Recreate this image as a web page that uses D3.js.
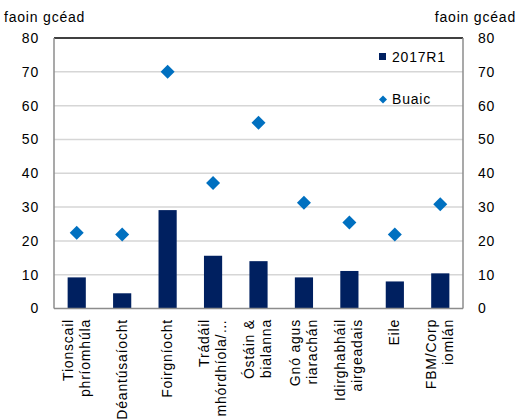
<!DOCTYPE html>
<html>
<head>
<meta charset="utf-8">
<script src="https://cdn.jsdelivr.net/npm/d3@7"></script>
<style>
  html, body { margin: 0; padding: 0; background: #fff; }
  svg { display: block; }
  text { font-family: "Liberation Sans", Arial, sans-serif; font-size: 14px; fill: #000; letter-spacing: 0.8px; }
</style>
</head>
<body>
<svg id="chart" width="517" height="420"></svg>
<script>
// Sector labels (each entry is the list of lines drawn under a bar)
const categories = [
  ["Tionscail", "phríomhúla"],
  ["Déantúsaíocht"],
  ["Foirgníocht"],
  ["Trádáil", "mhórdhíola/…"],
  ["Óstáin &", "bialanna"],
  ["Gnó agus", "riarachán"],
  ["Idirghabháil", "airgeadais"],
  ["Eile"],
  ["FBM/Corp", "iomlán"]
];
const seriesNames = ["2017R1", "Buaic"];
const values2017R1 = [9.2, 4.5, 29.1, 15.6, 14.0, 9.2, 11.1, 8.0, 10.4];
const valuesBuaic = [22.4, 21.9, 70.0, 37.1, 54.9, 31.3, 25.4, 21.9, 30.8];
const yTicks = [0, 10, 20, 30, 40, 50, 60, 70, 80];
const unitLabel = "faoin gcéad";

const barColor = "#002060";
const markerColor = "#0070c0";

const svg = d3.select("#chart");
const plot = { left: 54, right: 463, top: 38, bottom: 308.5 };

const x = d3.scaleBand()
  .domain(d3.range(categories.length))
  .range([plot.left, plot.right])
  .paddingInner(0.6)
  .paddingOuter(0.3);

const y = d3.scaleLinear()
  .domain([0, 80])
  .range([plot.bottom, plot.top]);

// Horizontal gridlines
svg.append("g")
  .selectAll("line")
  .data(yTicks.filter(t => t > 0 && t < 80))
  .join("line")
  .attr("x1", plot.left).attr("x2", plot.right)
  .attr("y1", d => y(d)).attr("y2", d => y(d))
  .attr("stroke", "#d6d6d6")
  .attr("stroke-width", 1.5);

// Bars
svg.append("g")
  .selectAll("rect")
  .data(values2017R1)
  .join("rect")
  .attr("x", (d, i) => x(i))
  .attr("width", x.bandwidth())
  .attr("y", d => y(d))
  .attr("height", d => y(0) - y(d))
  .attr("fill", barColor);

// Diamond markers
const diamond = d3.symbol().type(d3.symbolSquare).size(98);
svg.append("g")
  .selectAll("path")
  .data(valuesBuaic)
  .join("path")
  .attr("d", diamond)
  .attr("transform", (d, i) => `translate(${x(i) + x.bandwidth() / 2},${y(d)}) rotate(45)`)
  .attr("fill", markerColor);

// Plot frame
svg.append("line")
  .attr("x1", plot.left).attr("x2", plot.right)
  .attr("y1", plot.top).attr("y2", plot.top)
  .attr("stroke", "#000").attr("stroke-width", 1.5);
svg.append("line")
  .attr("x1", plot.left).attr("x2", plot.left)
  .attr("y1", plot.top).attr("y2", plot.bottom)
  .attr("stroke", "#8c8c8c").attr("stroke-width", 1.5);
svg.append("line")
  .attr("x1", plot.right).attr("x2", plot.right)
  .attr("y1", plot.top).attr("y2", plot.bottom)
  .attr("stroke", "#8c8c8c").attr("stroke-width", 1.5);
svg.append("line")
  .attr("x1", plot.left).attr("x2", plot.right)
  .attr("y1", plot.bottom).attr("y2", plot.bottom)
  .attr("stroke", "#8c8c8c").attr("stroke-width", 1.5);

// Left and right value axes (labels only)
const leftAxis = d3.axisLeft(y).tickValues(yTicks).tickSize(0).tickPadding(15);
const rightAxis = d3.axisRight(y).tickValues(yTicks).tickSize(0).tickPadding(15);
const gl = svg.append("g").attr("transform", `translate(${plot.left},0)`).call(leftAxis);
const gr = svg.append("g").attr("transform", `translate(${plot.right},0)`).call(rightAxis);
[gl, gr].forEach(g => {
  g.select(".domain").remove();
  g.selectAll("text")
    .attr("font-family", null).attr("font-size", null)
    .style("fill", "#000");
});

// Unit labels
svg.append("text").attr("x", 4).attr("y", 22).text(unitLabel);
svg.append("text").attr("x", 516).attr("y", 22).attr("text-anchor", "end").text(unitLabel);

// Category labels, rotated
const lineGap = 17;
const labels = svg.append("g")
  .selectAll("text")
  .data(categories)
  .join("text")
  .attr("text-anchor", "end")
  .attr("transform", (d, i) => `translate(${x(i) + x.bandwidth() / 2},319) rotate(-90)`);
labels.each(function(lines) {
  const t = d3.select(this);
  const offset = -(lines.length - 1) * lineGap / 2;
  lines.forEach((line, k) => {
    t.append("tspan")
      .attr("x", 0)
      .attr("y", offset + k * lineGap)
      .attr("dy", "0.32em")
      .text(line);
  });
});

// Legend
const legend = svg.append("g");
legend.append("rect")
  .attr("x", 379).attr("y", 53).attr("width", 7).attr("height", 7)
  .attr("fill", barColor);
legend.append("text").attr("x", 392).attr("y", 62).text(seriesNames[0]);
legend.append("path")
  .attr("d", d3.symbol().type(d3.symbolSquare).size(32))
  .attr("transform", "translate(383,99.5) rotate(45)")
  .attr("fill", markerColor);
legend.append("text").attr("x", 392).attr("y", 104).text(seriesNames[1]);
</script>
</body>
</html>
